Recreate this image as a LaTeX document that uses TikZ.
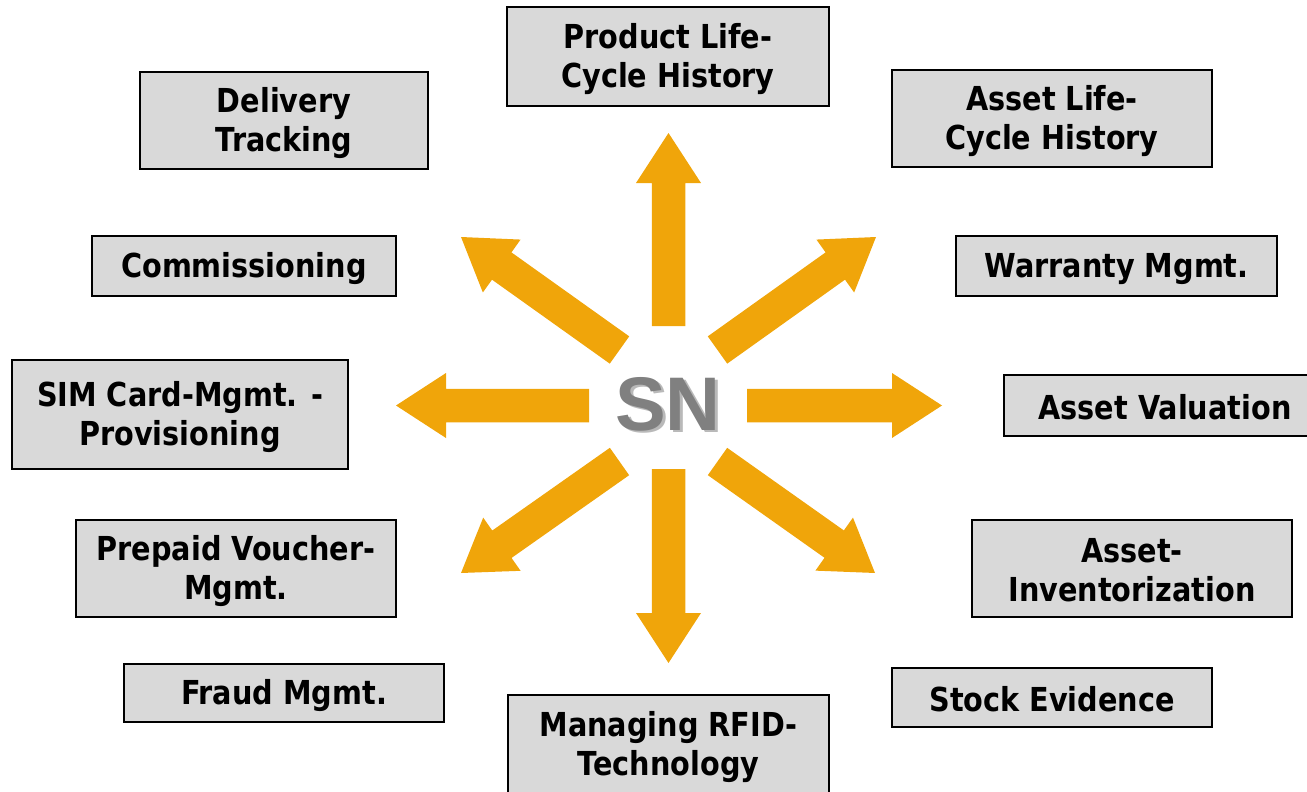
\documentclass[tikz,border=0pt]{standalone}
\usepackage{fontspec}
\setmainfont[FakeStretch=0.87]{DejaVu Sans}
\newfontfamily\snfont{Liberation Sans}
\definecolor{arr}{RGB}{240,165,10}
\definecolor{boxgray}{RGB}{217,217,217}
\definecolor{sngray}{RGB}{128,128,128}
\definecolor{snshadow}{RGB}{185,185,185}
\newcommand\ST{\rule[-4pt]{0pt}{35pt}}
\newcommand\BArrow[2]{%
  \path (#1); \pgfgetlastxy{\BAx}{\BAy}%
  \path (#2); \pgfgetlastxy{\BBx}{\BBy}%
  \pgfmathsetmacro\BAang{atan2(\BBy-\BAy,\BBx-\BAx)}%
  \pgfmathsetmacro\BAlen{veclen(\BBx-\BAx,\BBy-\BAy)}%
  \pgfmathsetmacro\BAneck{\BAlen-50}%
  \fill[arr,shift={(#1)},rotate=\BAang]
    (0pt,-16.75pt) -- (\BAneck pt,-16.75pt) -- (\BAneck pt,-32.5pt) -- (\BAlen pt,0pt)
    -- (\BAneck pt,32.5pt) -- (\BAneck pt,16.75pt) -- (0pt,16.75pt) -- cycle;}
\begin{document}
\begin{tikzpicture}[x=1pt,y=-1pt,
  box/.style={draw=black, line width=1.5pt, fill=boxgray, inner sep=0pt,
    align=center, font=\bfseries\fontsize{33}{39}\selectfont},
  sntext/.style={font=\snfont\bfseries\fontsize{76}{80}\selectfont, anchor=base, inner sep=0pt}]
\useasboundingbox (0,0) rectangle (1307,792);

% boxes
\node[box, minimum width=322, minimum height=99] (plc) at (668,56.5) {\ST Product Life-\\Cycle History\ST};
\node[box, minimum width=288, minimum height=97] (del) at (284,120.5) {\ST Delivery\\Tracking\ST};
\node[box, minimum width=320, minimum height=97] (alc) at (1052,118.5) {\ST Asset Life-\\Cycle History\ST};
\node[box, minimum width=304, minimum height=60] (com) at (244,266) {\ST Commissioning\ST};
\node[box, minimum width=321, minimum height=60] (war) at (1116.5,266) {\ST Warranty Mgmt.\ST};
\node[box, minimum width=336, minimum height=109] (sim) at (180,414.5) {\ST SIM Card-Mgmt. -\\Provisioning\ST};
\node[box, minimum width=322, minimum height=61] (val) at (1165,405.5) {\ST Asset Valuation\ST};
\node[box, minimum width=320, minimum height=97] (pre) at (236,568.5) {\ST Prepaid Voucher-\\Mgmt.\ST};
\node[box, minimum width=320, minimum height=97] (inv) at (1132,568.5) {\ST Asset-\\Inventorization\ST};
\node[box, minimum width=320, minimum height=58] (fra) at (284,693) {\ST Fraud Mgmt.\ST};
\node[box, minimum width=320, minimum height=59] (sto) at (1052,697.5) {\ST Stock Evidence\ST};
\node[box, minimum width=321, minimum height=99] (rfid) at (668.5,744.5) {\ST Managing RFID-\\Technology\ST};

% arrow tails and tips
\coordinate (uT) at (668.5,326);  \coordinate (uH) at (668.5,133);
\coordinate (dT) at (668.5,469);  \coordinate (dH) at (668.5,663);
\coordinate (lT) at (589,405.5);  \coordinate (lH) at (396,405.5);
\coordinate (rT) at (747,405.5);  \coordinate (rH) at (942,405.5);
\coordinate (ulT) at (619.5,350); \coordinate (ulH) at (461,237);
\coordinate (urT) at (717.5,350); \coordinate (urH) at (876,237);
\coordinate (llT) at (619.5,461.5); \coordinate (llH) at (461,573);
\coordinate (lrT) at (717.5,461.5); \coordinate (lrH) at (875,573);

\BArrow{uT}{uH}
\BArrow{dT}{dH}
\BArrow{lT}{lH}
\BArrow{rT}{rH}
\BArrow{ulT}{ulH}
\BArrow{urT}{urH}
\BArrow{llT}{llH}
\BArrow{lrT}{lrH}

% centre label
\node[sntext, text=snshadow] (snsh) at (671,432.5) {SN};
\node[sntext, text=sngray] (sn) at (668,430) {SN};
\end{tikzpicture}
\end{document}
